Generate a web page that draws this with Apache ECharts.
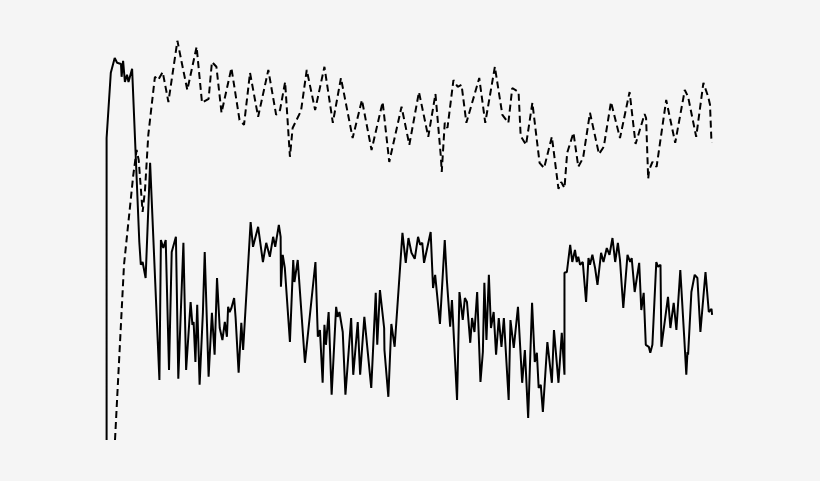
<!DOCTYPE html>
<html>
<head>
<meta charset="utf-8">
<script src="https://cdn.jsdelivr.net/npm/echarts@6/dist/echarts.min.js"></script>
<style>
html,body{margin:0;padding:0;background:#f5f5f5;}
#chart{width:820px;height:481px;}
</style>
</head>
<body>
<div id="chart"></div>
<script>
// Solid series: sample time (t) and value (v)
const solidT = [0.2,0.2,1.6,2.9,3.7,5,5.2,5.7,6.3,7,7.5,8.7,11.1,11.6,12.2,13.2,14.7,17.8,18.3,19.1,19.9,21,21.9,23.3,24.1,25.8,26.7,28.2,28.8,29.2,29.8,30.4,31.2,32.3,32.9,34.2,35.3,36.2,37,37.9,38.8,39.6,40.3,40.7,41.2,41.8,42.7,43.2,44.2,45.1,45.7,48.2,49,50.7,52.3,53.4,54.6,55.7,56.4,57.6,58.2,58.3,58.9,59.6,61.3,62.4,62.8,63.9,66.3,69.8,70.6,71.3,72.2,72.8,73.3,74.2,75.2,76.7,77.2,77.8,78.9,79.8,81.7,82.4,83.9,84.7,86.1,86.7,88.4,89.9,90.4,91.3,92.7,92.8,94.1,95.1,96.2,98.8,99.9,100.8,101.8,102.9,104,104.7,105.4,106,108.2,109,109.7,111.3,112.9,113.6,114.7,115.3,117,117.8,118.9,119.6,120.3,121.4,122,122.8,123.7,124.8,125.6,126.1,126.8,127.6,128.3,129.2,130,130.9,131.8,132.6,134.2,134.8,135.9,137.3,138.7,139.6,140.7,142,142.9,143.6,144.2,144.9,145.6,147.1,148.6,149.3,150.8,151.9,152.8,152.8,153.6,154.7,155.4,156.3,156.9,157.4,158,158.9,160,160.8,161.3,162.1,163,163.8,165,165.8,166.9,167.8,168.8,169.7,170.6,171.3,171.9,172.4,173.8,174.7,175.2,176.2,177.7,178.4,179.2,179.9,180.9,181.4,182.1,183.4,184,184.8,185.1,187.3,188.1,189.2,190.1,191.4,192.7,193.4,193.8,194,195.1,196.2,197.1,198.1,199.8,200.9,201.8,202];
const solidV = [0,75.5,91.8,95.5,94.3,94,90.8,94.8,89.5,91.3,89.5,92.8,49.5,43.8,44.5,40.5,69.3,15,50,48,50,17.5,47,50.8,15.3,49.3,17.5,34.5,28.8,29.5,19.5,33.8,13.8,32,47,15.8,31.8,21.3,40.5,28,25,29.5,25.8,33.3,32,33,35.5,30.5,16.8,29.3,22.5,54.5,48.3,53.3,44.5,49.3,45.8,50.8,48.3,53.8,50.8,38.3,46.3,43,24.5,45,39.5,45,19.3,44.5,25.8,27.5,14.3,28.8,23.8,32,11.3,33.3,30.8,32,27,11.3,30.5,16.3,29.5,16.3,30.8,30.5,13,36.8,23.8,37.5,28,22.5,10.8,29,23.3,51.8,44.3,50.5,46.8,45.3,50.8,48.8,49.3,44.3,52,38,41.3,29,50,40,28.3,35,10,37,30,35.5,34.5,24.3,30.5,27,37,14.5,22,39.3,25,41.3,28,32,21.3,30.5,23.3,30.5,10,30,23,33.3,14.3,22.5,5.5,34.3,19.5,21.8,13,13.8,7,24.5,14.3,27.5,14.3,26.8,16.3,41.8,42,48.8,44.5,47.5,44.5,45.8,43.8,44.5,34.5,45.5,43.8,46.3,43,38.8,46.8,44.5,48,46.3,50.5,44.5,49.3,45,45,33,46.3,44.5,45.5,37,44.3,32.5,36.8,23.8,23.3,21.8,23.8,44.5,43.3,43.8,23.3,35.8,28,34.3,27.5,42.5,25.8,16.3,22,21.3,37,41.3,40.5,27,42,32,32.8,31.3];

// Dashed series
const dashedT = [3,6,9.1,10.2,10.9,12.2,13,14.1,16.3,17.4,18,18.9,20.8,23.8,25.2,27.1,30.2,32,34.2,35.3,36.8,38.5,41.8,44.5,46,48,50.7,54.1,56.7,58,59.7,61.3,62.2,65,66.9,69.7,72.8,75.6,78.3,82.2,85.3,88.5,92.2,94.4,98.5,101.1,104.3,107.4,109.8,111.6,111.9,112.9,113.8,115.8,116.3,117.2,118.5,120.1,124.4,126.4,129.6,132.1,134.1,135.4,137.5,138.2,140,142.1,144.5,146,148.6,150.8,151.7,152.8,153.7,155.8,157.4,159,161.3,164.3,165.9,168.3,171.3,174.5,174.9,176.5,179.5,180,180.7,181,182.1,183.5,186.7,189.7,192.9,194,196.7,199.1,200.7,201.3,201.8];
const dashedV = [0,43.8,66.3,72.5,70,57,62.5,76.3,90.8,90,90.8,92,84.5,99.8,94.5,87.5,98.3,84.3,85.3,94.5,93.3,81.8,93,80,78.8,91.8,80.8,92.5,81.3,82.5,89.5,70.8,78,82.3,92.5,82.5,93.3,79.3,90.5,75.5,85,72.5,84.5,69.5,83.3,73.8,87,75.8,86.5,70.8,67,79.3,78,90,90.5,88.3,88.8,79.3,90.5,79.3,93.3,81.3,79.3,88,87,76,73.8,84.3,69.3,68,75.8,62.8,64.5,63,71.8,76.8,68.3,70.5,81.8,71.5,73.3,84.5,75.5,87,86.8,74,81.5,80.5,65.3,67.5,69.5,68.3,85,74.3,87.5,85.8,75.8,89.3,85.8,83.8,74.3];

const zip = (a, b) => a.map((x, i) => [x, b[i]]);

const chart = echarts.init(document.getElementById('chart'), null, {renderer: 'canvas'});
chart.setOption({
  backgroundColor: '#f5f5f5',
  animation: false,
  grid: {left: 106, right: 107, top: 40, bottom: 41},
  xAxis: {type: 'value', min: 0, max: 202.3, show: false},
  yAxis: {type: 'value', min: 0, max: 100, show: false},
  series: [
    {
      type: 'line', data: zip(solidT, solidV), symbol: 'none', clip: false,
      lineStyle: {color: '#000', width: 2}
    },
    {
      type: 'line', data: zip(dashedT, dashedV), symbol: 'none', clip: false,
      lineStyle: {color: '#000', width: 2, type: [7, 4]}
    }
  ]
});
</script>
</body>
</html>
